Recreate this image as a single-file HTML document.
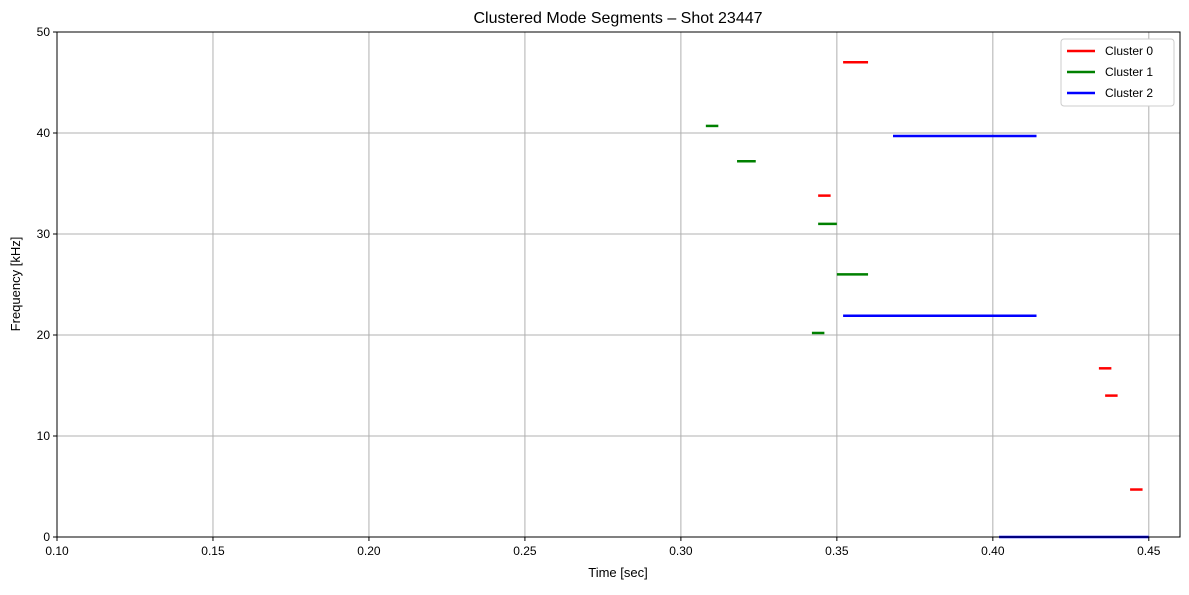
<!DOCTYPE html>
<html><head><meta charset="utf-8"><style>
body{margin:0;background:#fff;}
svg{font-family:"Liberation Sans","DejaVu Sans",sans-serif;}
</style></head><body>
<svg id="chart" width="1189" height="590">
<text x="618" y="23" font-size="16" text-anchor="middle">Clustered Mode Segments – Shot 23447</text>
<g id="grid"></g>
<g id="segs"></g>
<rect x="57" y="32" width="1123" height="505" fill="none" stroke="#000" stroke-width="1"/>
<g id="ticks"></g>
<text x="618" y="577" font-size="13" text-anchor="middle">Time [sec]</text>
<text x="20" y="284" font-size="13" text-anchor="middle" transform="rotate(-90 20 284)">Frequency [kHz]</text>
<g id="legend">
<rect x="1061" y="39" width="113" height="67" fill="#fff" stroke="#ccc" rx="3"/>
</g>
</svg>
<script>
const xTicks=[0.10,0.15,0.20,0.25,0.30,0.35,0.40,0.45];
const yTicks=[0,10,20,30,40,50];
const clusters=["Cluster 0","Cluster 1","Cluster 2"];
const colors=["#ff0000","#008000","#0000ff"];
const segCluster=[0,1,1,0,1,1,2,2,1,0,0,0,2];
const segStart=[0.352,0.308,0.318,0.344,0.344,0.350,0.368,0.352,0.342,0.434,0.436,0.444,0.402];
const segEnd=[0.360,0.312,0.324,0.348,0.350,0.360,0.414,0.414,0.346,0.438,0.440,0.448,0.450];
const segFreq=[47,40.7,37.2,33.8,31,26,39.7,21.9,20.2,16.7,14,4.7,0];
const NS="http://www.w3.org/2000/svg";
const X=v=>57+(v-0.10)/0.36*1123;
const Y=v=>537-v/50*505;
function mk(t,a,p){const e=document.createElementNS(NS,t);for(const k in a)e.setAttribute(k,a[k]);p.appendChild(e);return e;}
const grid=document.getElementById('grid'),ticks=document.getElementById('ticks'),segs=document.getElementById('segs'),leg=document.getElementById('legend');
xTicks.forEach(v=>{const x=X(v);
 const g=mk('line',{x1:x,x2:x,y1:32,y2:537,stroke:'#b0b0b0','stroke-width':1},grid);
 
 
 mk('line',{x1:x,x2:x,y1:537,y2:541,stroke:'#000'},ticks);
 const t=mk('text',{x:x,y:555,'font-size':12,'text-anchor':'middle'},ticks);t.textContent=v.toFixed(2);
 
 
});
yTicks.forEach(v=>{const y=Y(v);
 const g=mk('line',{x1:57,x2:1180,y1:y,y2:y,stroke:'#b0b0b0','stroke-width':1},grid);
 
 
 mk('line',{x1:53,x2:57,y1:y,y2:y,stroke:'#000'},ticks);
 const t=mk('text',{x:50,y:y+4,'font-size':12,'text-anchor':'end'},ticks);t.textContent=v;
 
 
});
segFreq.forEach((f,i)=>{
 const l=mk('line',{x1:X(segStart[i]),x2:X(segEnd[i]),y1:Y(f),y2:Y(f),stroke:colors[segCluster[i]],'stroke-width':2.5},segs);
 
 
});
clusters.forEach((c,i)=>{const y=51+i*21;
 const l=mk('line',{x1:1067,x2:1095,y1:y,y2:y,stroke:colors[i],'stroke-width':2.5},leg);
 
 
 const t=mk('text',{x:1105,y:y+4,'font-size':12},leg);t.textContent=c;
 
 
});
</script>
</body></html>
